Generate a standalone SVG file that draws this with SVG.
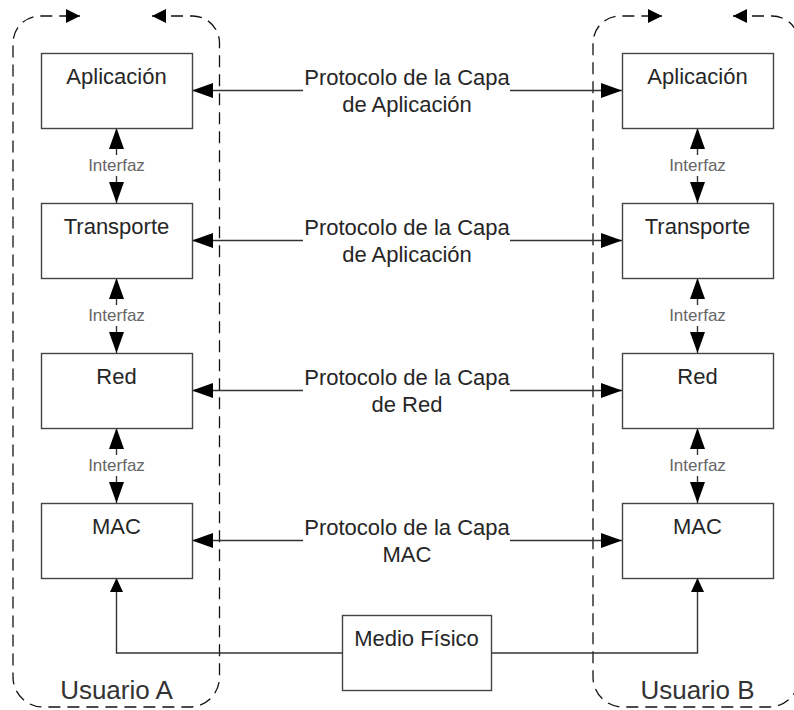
<svg xmlns="http://www.w3.org/2000/svg" width="794" height="710" viewBox="0 0 794 710">
<style>
.box{fill:#fff;stroke:#444;stroke-width:1.4}
.lbl{font-family:"Liberation Sans",Arial,sans-serif;font-size:22px;fill:#262626;text-anchor:middle}
.ifz{font-family:"Liberation Sans",Arial,sans-serif;font-size:17px;fill:#666;text-anchor:middle}
.usr{font-family:"Liberation Sans",Arial,sans-serif;font-size:26px;fill:#333;text-anchor:middle}
.cont{fill:none;stroke:#111;stroke-width:1.3;stroke-dasharray:12 7}
.ln{fill:none;stroke:#333;stroke-width:1.4}
.big{marker-end:url(#ah)}
.sm{marker-end:url(#as)}
</style>
<defs>
<marker id="ah" markerUnits="userSpaceOnUse" viewBox="0 0 21 15" markerWidth="21" markerHeight="15" refX="21" refY="7.5" orient="auto"><path d="M0,0 L21,7.5 L0,15 z" fill="#000"/></marker>
<marker id="as" markerUnits="userSpaceOnUse" viewBox="0 0 14 13" markerWidth="14" markerHeight="13" refX="14" refY="6.5" orient="auto"><path d="M0,0 L14,6.5 L0,13 z" fill="#000"/></marker>
</defs>
<rect width="794" height="710" fill="#fff"/>

<g id="usuarioA">
<path class="cont" d="M152,16 H192 A27,27 0 0 1 219.5,43 V677 A30,30 0 0 1 189.5,707 H43 A30,30 0 0 1 13,677 V43 A27,27 0 0 1 40,16 H80"/>
<path d="M66,9 L80,16 L66,23 z" fill="#000"/>
<path d="M166,9 L152,16 L166,23 z" fill="#000"/>
<text class="usr" x="116.5" y="699">Usuario A</text>
</g>
<g id="usuarioB">
<path class="cont" d="M733,16 H772 A27,27 0 0 1 799,43 V677 A30,30 0 0 1 769,707 H623 A30,30 0 0 1 593,677 V43 A27,27 0 0 1 620,16 H662"/>
<path d="M648,9 L662,16 L648,23 z" fill="#000"/>
<path d="M747,9 L733,16 L747,23 z" fill="#000"/>
<text class="usr" x="697.5" y="699">Usuario B</text>
</g>

<g id="connectors">
<path class="ln big" d="M303,90.5 H192"/><path class="ln big" d="M510,90.5 H622"/>
<path class="ln big" d="M303,240.5 H192"/><path class="ln big" d="M510,240.5 H622"/>
<path class="ln big" d="M303,390.5 H192"/><path class="ln big" d="M510,390.5 H622"/>
<path class="ln big" d="M303,540.5 H192"/><path class="ln big" d="M510,540.5 H622"/>
<path class="ln big" d="M116.5,155 V128"/><path class="ln big" d="M116.5,176 V203"/>
<path class="ln big" d="M116.5,305 V278"/><path class="ln big" d="M116.5,326 V353"/>
<path class="ln big" d="M116.5,455 V428"/><path class="ln big" d="M116.5,476 V503"/>
<path class="ln big" d="M697.5,155 V128"/><path class="ln big" d="M697.5,176 V203"/>
<path class="ln big" d="M697.5,305 V278"/><path class="ln big" d="M697.5,326 V353"/>
<path class="ln big" d="M697.5,455 V428"/><path class="ln big" d="M697.5,476 V503"/>
<path class="ln sm" d="M342,653 H116.5 V578"/>
<path class="ln sm" d="M491,653 H697.5 V578"/>
<text class="lbl" x="407" y="85">Protocolo de la Capa</text><text class="lbl" x="407" y="112">de Aplicación</text>
<text class="lbl" x="407" y="235">Protocolo de la Capa</text><text class="lbl" x="407" y="262">de Aplicación</text>
<text class="lbl" x="407" y="385">Protocolo de la Capa</text><text class="lbl" x="407" y="412">de Red</text>
<text class="lbl" x="407" y="535">Protocolo de la Capa</text><text class="lbl" x="407" y="562">MAC</text>
<text class="ifz" x="116.5" y="171">Interfaz</text><text class="ifz" x="116.5" y="321">Interfaz</text><text class="ifz" x="116.5" y="471">Interfaz</text>
<text class="ifz" x="697.5" y="171">Interfaz</text><text class="ifz" x="697.5" y="321">Interfaz</text><text class="ifz" x="697.5" y="471">Interfaz</text>
</g>

<g id="appA"><rect class="box" x="41.5" y="53.5" width="151" height="75"/><text class="lbl" x="116.5" y="84">Aplicación</text></g>
<g id="transA"><rect class="box" x="41.5" y="203.5" width="151" height="75"/><text class="lbl" x="116.5" y="234">Transporte</text></g>
<g id="redA"><rect class="box" x="41.5" y="353.5" width="151" height="75"/><text class="lbl" x="116.5" y="384">Red</text></g>
<g id="macA"><rect class="box" x="41.5" y="503.5" width="151" height="75"/><text class="lbl" x="116.5" y="534">MAC</text></g>
<g id="appB"><rect class="box" x="622.5" y="53.5" width="151" height="75"/><text class="lbl" x="697.5" y="84">Aplicación</text></g>
<g id="transB"><rect class="box" x="622.5" y="203.5" width="151" height="75"/><text class="lbl" x="697.5" y="234">Transporte</text></g>
<g id="redB"><rect class="box" x="622.5" y="353.5" width="151" height="75"/><text class="lbl" x="697.5" y="384">Red</text></g>
<g id="macB"><rect class="box" x="622.5" y="503.5" width="151" height="75"/><text class="lbl" x="697.5" y="534">MAC</text></g>
<g id="medio"><rect class="box" x="342.5" y="615.5" width="149" height="75"/><text class="lbl" x="416.5" y="646">Medio Físico</text></g>
</svg>
